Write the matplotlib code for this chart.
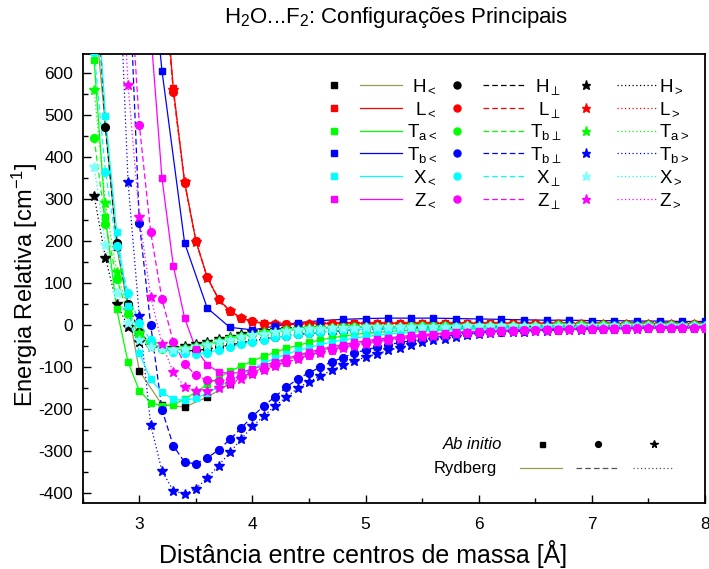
import numpy as np
import matplotlib
matplotlib.use("Agg")
import matplotlib.pyplot as plt
from matplotlib.lines import Line2D
from matplotlib.ticker import MultipleLocator

plt.rcParams['font.family'] = ['Liberation Sans', 'DejaVu Sans']
plt.rcParams['mathtext.fontset'] = 'custom'
plt.rcParams['mathtext.rm'] = 'Liberation Sans'
plt.rcParams['mathtext.it'] = 'Liberation Sans:italic'
plt.rcParams['mathtext.bf'] = 'Liberation Sans:bold'
plt.rcParams['axes.unicode_minus'] = False


def grid(start, stop, step):
    return np.round(np.arange(start, stop + step / 2, step), 2)


# ---------------- ab initio energies (cm^-1) vs. centre-of-mass distance (Å) ----------------
# H configurations
r_h_lt = grid(2.6, 8.0, 0.2)
e_h_lt = [760, 186, -110, -190, -196, -172, -140, -113, -92, -75, -61, -50, -41, -34,
          -28, -23, -19, -16, -14, -12, -10, -9, -8, -7, -6, -5.5, -5, -4.5]
r_h_perp = grid(2.6, 8.0, 0.1)
e_h_perp = [900, 470, 195, 50, -18, -45, -56, -61, -62, -61,
            -58, -53, -48, -43, -38, -34, -30, -26, -23, -20,
            -18, -16, -14, -12, -11, -10, -9, -8, -7.5, -7,
            -6.5, -6, -5.5, -5, -5,
            -4.5, -4.5, -4, -4, -4, -3.5, -3.5, -3.5, -3, -3,
            -3, -3, -2.5, -2.5, -2.5, -2.5, -2, -2, -2, -2]
r_h_gt = grid(2.6, 8.0, 0.1)
e_h_gt = [308, 160, 50, -4, -40, -52, -55, -55, -50, -45,
          -40, -33, -28, -22, -18, -15, -12, -10, -9, -8,
          -7, -6.5, -6, -5.5, -5, -5, -4.5, -4.5, -4, -4,
          -4, -3.5, -3.5, -3.5, -3,
          -3, -3, -3, -3, -2.5, -2.5, -2.5, -2.5, -2.5, -2,
          -2, -2, -2, -2, -2, -1.5, -1.5, -1.5, -1.5, -1.5]

# L configurations
r_l_lt = grid(3.2, 8.0, 0.1)
e_l_lt = [900, 563, 340, 200, 113, 61, 33, 17, 8, 4,
          2, 2, 2, 3, 3, 4, 4, 4, 4,
          4, 4, 4, 4, 4, 4, 4, 4, 4, 4,
          4, 4, 3.5, 3.5, 3.5, 3.5, 3.5, 3.5, 3.5, 3.5,
          3, 3, 3, 3, 3, 3, 3, 3, 3, 3]
r_l_perp = grid(3.2, 8.0, 0.1)
e_l_perp = [880, 555, 338, 200, 113, 62, 33, 17, 8, 3,
            1, 1, 1, 2, 2, 3, 3, 3, 3,
            3, 3, 3, 3, 3, 3, 3, 3, 3, 3,
            3, 3, 3, 3, 2.5, 2.5, 2.5, 2.5, 2.5, 2.5,
            2.5, 2.5, 2, 2, 2, 2, 2, 2, 2, 2]
r_l_gt = grid(3.2, 8.0, 0.1)
e_l_gt = [890, 560, 340, 198, 112, 60, 32, 16, 7, 3,
          1, 0, 0, 1, 1, 2, 2, 2, 2,
          2, 2, 2, 2, 2, 2, 2, 2, 2, 2,
          2, 2, 2, 2, 2, 2, 2, 2, 2, 2,
          2, 2, 2, 2, 2, 2, 2, 2, 2, 2]

# Ta configurations
r_ta_lt = grid(2.6, 8.0, 0.1)
e_ta_lt = [630, 258, 37, -89, -157, -185, -193, -190, -177, -160,
           -142, -126, -111, -98, -86, -75, -65, -56, -49, -42,
           -36, -31, -27, -23, -20, -18, -16, -14, -13, -12,
           -11, -10, -9, -8.5, -8,
           -7.5, -7, -7, -6.5, -6, -6, -5.5, -5.5, -5, -5,
           -4.5, -4.5, -4, -4, -4, -3.5, -3.5, -3.5, -3, -3]
r_ta_perp = grid(2.6, 8.0, 0.1)
e_ta_perp = [445, 240, 110, 25, -25, -48, -58, -60, -58, -53,
             -47, -40, -34, -28, -23, -19, -16, -13, -11, -9,
             -8, -7, -6, -5.5, -5, -4.5, -4, -4, -3.5, -3.5,
             -3, -3, -3, -2.5, -2.5,
             -2.5, -2, -2, -2, -2, -2, -1.5, -1.5, -1.5, -1.5,
             -1.5, -1, -1, -1, -1, -1, -1, -1, -1, -1]
r_ta_gt = grid(2.6, 8.0, 0.1)
e_ta_gt = [560, 290, 125, 35, -20, -45, -55, -58, -56, -51,
           -45, -38, -32, -26, -21, -17, -14, -12, -10, -8.5,
           -7.5, -6.5, -6, -5.5, -5, -4.5, -4, -4, -3.5, -3.5,
           -3, -3, -3, -2.5, -2.5,
           -2.5, -2, -2, -2, -2, -2, -1.5, -1.5, -1.5, -1.5,
           -1.5, -1, -1, -1, -1, -1, -1, -1, -1, -1]

# Tb configurations
r_tb_lt = grid(3.0, 8.0, 0.2)
e_tb_lt = [1150, 605, 195, 40, -6, -12, -3, 5, 10, 13, 15, 16, 16, 16,
           15, 14, 13, 12, 11, 11, 10, 10, 9, 9, 8, 8]
r_tb_perp = grid(2.9, 8.0, 0.1)
e_tb_perp = [900, 242, 0, -202, -288, -327, -331, -317, -298, -273,
             -246, -218, -193, -171, -148, -129, -114, -101, -88, -78,
             -67, -60, -53, -48, -42, -38, -34, -30, -27, -24,
             -21, -19,
             -17, -16, -15, -14, -13, -12, -11.5, -11, -10.5, -10,
             -9.5, -9, -8.5, -8, -8, -7.5, -7, -7, -6.5, -6]
r_tb_gt = grid(2.8, 8.0, 0.1)
e_tb_gt = [1000, 340, 20, -238, -348, -395, -403, -390, -365, -335,
           -304, -272, -242, -217, -193, -172, -151, -135, -122, -108,
           -96, -86, -77, -69, -61, -54, -48, -42, -37, -33,
           -29, -25, -22,
           -20, -18, -17, -16, -15, -14, -13, -12, -11.5, -11,
           -10.5, -10, -9.5, -9, -8.5, -8, -8, -7.5, -7, -7]

# X configurations
r_x_lt = grid(2.6, 8.0, 0.1)
e_x_lt = [900, 498, 221, 44, -67, -130, -161, -177, -180, -175,
          -163, -148, -133, -118, -104, -91, -80, -70, -61, -54,
          -47, -41, -36, -32, -28, -25, -22, -20, -18, -16,
          -14.5, -13, -12, -11, -10,
          -9.5, -9, -8.5, -8, -7.5, -7, -7, -6.5, -6, -6,
          -5.5, -5.5, -5, -5, -4.5, -4.5, -4.5, -4, -4, -4]
r_x_perp = grid(2.6, 8.0, 0.1)
e_x_perp = [650, 365, 188, 75, 5, -37, -56, -64, -68, -69,
            -66, -60, -53, -46, -40, -35, -30, -26, -22, -19,
            -17, -15, -13, -12, -10, -9.5, -9, -8.5, -8, -7.5,
            -7, -6.5, -6, -6, -5.5,
            -5.5, -5, -5, -5, -4.5, -4.5, -4.5, -4, -4, -4,
            -4, -3.5, -3.5, -3.5, -3.5, -3, -3, -3, -3, -3]
r_x_gt = grid(2.6, 8.0, 0.1)
e_x_gt = [377, 190, 75, 5, -35, -52, -58, -60, -57, -53,
          -48, -42, -36, -30, -25, -21, -17, -14, -12, -10,
          -9, -8, -7, -6.5, -6, -5.5, -5, -5, -4.5, -4.5,
          -4, -4, -4, -3.5, -3.5,
          -3.5, -3.5, -3, -3, -3, -3, -3, -2.5, -2.5, -2.5,
          -2.5, -2.5, -2, -2, -2, -2, -2, -2, -2, -2]

# Z configurations
r_z_lt = grid(3.1, 8.0, 0.1)
e_z_lt = [700, 349, 141, 16, -58, -95, -112, -116, -113, -105,
          -97, -88, -80, -72, -65, -58, -52, -47, -42, -38,
          -34, -31, -28, -25, -23, -21, -19, -17.5, -16, -15,
          -14, -13, -12.5, -12, -11.5, -11, -10.5, -10, -9.5, -9,
          -9, -8.5, -8, -8, -7.5, -7.5, -7, -7, -6.5, -6.5]
r_z_perp = grid(2.9, 8.0, 0.1)
e_z_perp = [900, 476, 221, 61, -40, -93, -120, -132, -134, -130,
            -123, -114, -105, -96, -88, -80, -72, -65, -59, -53,
            -48, -43, -39, -35, -32, -29, -26, -24, -22, -20,
            -18.5, -17,
            -16, -15, -14, -13, -12.5, -12, -11.5, -11, -10.5, -10,
            -9.5, -9, -9, -8.5, -8, -8, -7.5, -7.5, -7, -7]
r_z_gt = grid(2.8, 8.0, 0.1)
e_z_gt = [1100, 571, 258, 67, -45, -113, -147, -158, -157, -150,
          -140, -129, -118, -108, -98, -89, -81, -73, -66, -60,
          -55, -50, -45, -41, -37, -34, -31, -28, -26, -24,
          -22, -20, -18.5,
          -17, -16, -15, -14, -13.5, -13, -12, -11.5, -11, -10.5,
          -10, -9.5, -9, -9, -8.5, -8, -8, -7.5, -7.5, -7]

# ---------------- styles ----------------
OLIVE = '#9a9a50'
RED, GREEN, BLUE, CYAN, MAG = '#ff0000', '#00ff00', '#0000ff', '#00ffff', '#ff00ff'
LCYAN = '#80ffff'
DASH = (4.5, 2.5)
DOT = (1.0, 2.0)

# (r, e, marker colour, marker, line colour, dash pattern or None, marker size)
series = [
    (r_h_lt, e_h_lt, 'black', 's', OLIVE, None, 5.0),
    (r_h_perp, e_h_perp, 'black', 'o', 'black', DASH, 5.6),
    (r_h_gt, e_h_gt, 'black', '*', 'black', DOT, 7.5),
    (r_l_lt, e_l_lt, RED, 's', RED, None, 5.0),
    (r_l_perp, e_l_perp, RED, 'o', RED, DASH, 5.6),
    (r_l_gt, e_l_gt, RED, '*', RED, DOT, 7.5),
    (r_ta_lt, e_ta_lt, GREEN, 's', GREEN, None, 5.0),
    (r_ta_perp, e_ta_perp, GREEN, 'o', GREEN, DASH, 5.6),
    (r_ta_gt, e_ta_gt, GREEN, '*', GREEN, DOT, 7.5),
    (r_tb_lt, e_tb_lt, BLUE, 's', BLUE, None, 5.0),
    (r_tb_perp, e_tb_perp, BLUE, 'o', BLUE, DASH, 5.6),
    (r_tb_gt, e_tb_gt, BLUE, '*', BLUE, DOT, 7.5),
    (r_x_lt, e_x_lt, CYAN, 's', CYAN, None, 5.0),
    (r_x_perp, e_x_perp, CYAN, 'o', CYAN, DASH, 5.6),
    (r_x_gt, e_x_gt, LCYAN, '*', CYAN, DOT, 7.5),
    (r_z_lt, e_z_lt, MAG, 's', MAG, None, 5.0),
    (r_z_perp, e_z_perp, MAG, 'o', MAG, DASH, 5.6),
    (r_z_gt, e_z_gt, MAG, '*', MAG, DOT, 7.5),
]

W, H = 709, 569
fig = plt.figure(figsize=(W / 100, H / 100), dpi=100)
ax = fig.add_axes([82.8 / W, 1 - 503.3 / H, (705 - 82.8) / W, (503.3 - 54) / H])

for r, e, mc, mk, lc, dash, ms in series:
    if dash is None:
        ax.plot(r, e, color=lc, lw=0.9, zorder=2)
    else:
        ax.plot(r, e, color=lc, lw=0.9, dashes=dash, zorder=2)
    ax.plot(r, e, ls='none', marker=mk, color=mc, mec=mc, ms=ms, zorder=3)

ax.set_xlim(2.5, 8.0)
ax.set_ylim(-425, 645)
ax.xaxis.set_major_locator(MultipleLocator(1))
ax.xaxis.set_minor_locator(MultipleLocator(0.5))
ax.yaxis.set_major_locator(MultipleLocator(100))
ax.yaxis.set_minor_locator(MultipleLocator(50))
ax.tick_params(which='both', direction='in', top=False, right=False, labelsize=12.5)
ax.tick_params(which='major', length=6, width=1.0)
ax.tick_params(which='minor', length=3.5, width=1.0)
ax.tick_params(axis='y', pad=7)
ax.tick_params(axis='x', pad=10)
for sp in ax.spines.values():
    sp.set_linewidth(1.3)


def fx(px):
    return px / W


def fy(py):
    return 1 - py / H


fig.text(fx(363), fy(554), 'Distância entre centros de massa [Å]',
         ha='center', va='center', fontsize=18)
fig.text(fx(25), fy(285), r'Energia Relativa [cm$^{\mathregular{-1}}$]',
         ha='center', va='center', rotation=90, fontsize=17)
fig.text(fx(396), fy(18),
         r'H$_{\mathregular{2}}$O...F$_{\mathregular{2}}$: Configurações Principais',
         ha='center', va='center', fontsize=16)

# ---------------- legend block (figure pixel positions) ----------------
rows_y = [85, 108, 130.7, 153.3, 176, 199]
labels_lt = [r'H$_{\mathregular{<}}$', r'L$_{\mathregular{<}}$', r'T$_{\mathregular{a<}}$',
             r'T$_{\mathregular{b<}}$', r'X$_{\mathregular{<}}$', r'Z$_{\mathregular{<}}$']
labels_perp = [r'H$_{\perp}$', r'L$_{\perp}$', r'T$_{\mathregular{b}\perp}$',
               r'T$_{\mathregular{b}\perp}$', r'X$_{\perp}$', r'Z$_{\perp}$']
labels_gt = [r'H$_{\mathregular{>}}$', r'L$_{\mathregular{>}}$', r'T$_{\mathregular{a>}}$',
             r'T$_{\mathregular{b>}}$', r'X$_{\mathregular{>}}$', r'Z$_{\mathregular{>}}$']

columns = [
    (334, (360, 402), 437, 'right', labels_lt, 0),
    (457, (483, 524), 561, 'right', labels_perp, 1),
    (586, (617, 657), 659, 'left', labels_gt, 2),
]
for mx, (l0, l1), tx, ha, labels, k in columns:
    for i, py in enumerate(rows_y):
        r, e, mc, mk, lc, dash, ms = series[3 * i + k]
        lkw = dict(color=lc, lw=0.9, transform=fig.transFigure)
        if dash is not None:
            lkw['dashes'] = dash
        fig.add_artist(Line2D([fx(l0), fx(l1)], [fy(py), fy(py)], **lkw))
        fig.add_artist(Line2D([fx(mx)], [fy(py)], ls='none', marker=mk, color=mc, mec=mc,
                              ms=ms * 0.9, transform=fig.transFigure))
        fig.text(fx(tx), fy(py + 6.8), labels[i], ha=ha, va='baseline', fontsize=13.5)

# ab initio / Rydberg key
fig.text(fx(502), fy(449), 'Ab initio', ha='right', va='baseline', fontsize=12, style='italic')
fig.text(fx(497), fy(473), 'Rydberg', ha='right', va='baseline', fontsize=12)
for px, mk, ms in [(541.7, 's', 3.6), (597.7, 'o', 4.2), (654, '*', 5.5)]:
    fig.add_artist(Line2D([fx(px)], [fy(444.3)], ls='none', marker=mk, color='black',
                          ms=ms, transform=fig.transFigure))
fig.add_artist(Line2D([fx(520), fx(562)], [fy(467.7)] * 2, color=OLIVE, lw=0.9,
                      transform=fig.transFigure))
fig.add_artist(Line2D([fx(576), fx(617)], [fy(467.7)] * 2, color='#555555', lw=0.9,
                      dashes=DASH, transform=fig.transFigure))
fig.add_artist(Line2D([fx(633), fx(673)], [fy(467.7)] * 2, color='#555555', lw=0.9,
                      dashes=DOT, transform=fig.transFigure))

fig.savefig('out.png', dpi=100)
